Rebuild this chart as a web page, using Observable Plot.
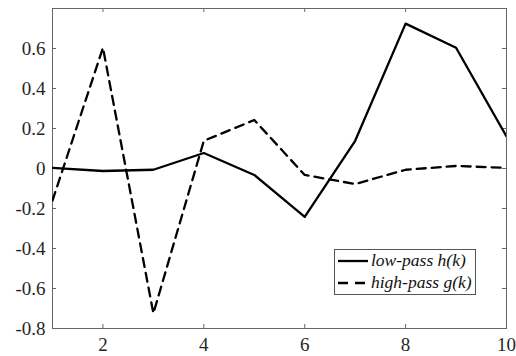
<!DOCTYPE html>
<html><head><meta charset="utf-8">
<script src="https://cdn.jsdelivr.net/npm/d3@7"></script>
<script src="https://cdn.jsdelivr.net/npm/@observablehq/plot@0.6"></script>
<style>
body{margin:0;background:#fff;}
#wrap{position:relative;width:516px;height:356px;}
#legend{position:absolute;left:334px;top:249px;width:142px;height:46px;border:1px solid #555;background:#fff;box-sizing:border-box;font-family:"Liberation Serif","Times New Roman",Times,serif;font-style:italic;font-size:17.5px;color:#111;}
.row{position:absolute;left:3px;display:flex;align-items:center;height:21px;white-space:nowrap;}
.row svg{margin-right:3px;}
</style>
</head><body>
<div id="wrap"><div id="legend"></div></div>
<script>
const k = [1,2,3,4,5,6,7,8,9,10];
const lowPass = [0.0033, -0.0126, -0.0062, 0.0776, -0.0322, -0.2423, 0.1384, 0.7243, 0.6038, 0.1601];
const highPass = [-0.1601, 0.6038, -0.7243, 0.1384, 0.2423, -0.0322, -0.0776, -0.0062, 0.0126, 0.0033];
const seriesNames = ["low-pass h(k)", "high-pass g(k)"];
const xTicks = [2,4,6,8,10];
const yTicks = [-0.8,-0.6,-0.4,-0.2,0,0.2,0.4,0.6];

const low = k.map((x,i)=>({k:x, v:lowPass[i]}));
const high = k.map((x,i)=>({k:x, v:highPass[i]}));

const W = 516, H = 356, mL = 52, mR = 10, mT = 8, mB = 28;
const pw = W - mL - mR, ph = H - mT - mB, tl = 4;
const axisColor = "#666";
const serif = "'Liberation Serif', 'Times New Roman', Times, serif";

const chart = Plot.plot({
  width: W, height: H,
  marginLeft: mL, marginRight: mR, marginTop: mT, marginBottom: mB,
  style: {fontFamily: serif, fontSize: "19px", background: "#fff", color: "#262626"},
  x: {domain: [1,10]},
  y: {domain: [-0.8,0.8]},
  marks: [
    Plot.frame({stroke: axisColor, strokeWidth: 1}),
    Plot.tickX(xTicks.filter(d=>d<10), {x: d=>d, insetTop: ph - tl, stroke: axisColor}),
    Plot.tickX(xTicks.filter(d=>d<10), {x: d=>d, insetBottom: ph - tl, stroke: axisColor}),
    Plot.tickY(yTicks.filter(d=>d>-0.8), {y: d=>d, insetRight: pw - tl, stroke: axisColor}),
    Plot.tickY(yTicks.filter(d=>d>-0.8), {y: d=>d, insetLeft: pw - tl, stroke: axisColor}),
    Plot.axisX({ticks: xTicks, tickSize: 0, tickPadding: 9, label: null, fill: "#262626", fontFamily: serif, fontSize: 19}),
    Plot.axisY({ticks: yTicks, tickSize: 0, tickPadding: 7, label: null, tickFormat: d => d === 0 ? "0" : String(d), fill: "#262626", fontFamily: serif, fontSize: 19}),
    Plot.line(low, {x: "k", y: "v", stroke: "#000", strokeWidth: 2.3, clip: true}),
    Plot.line(high, {x: "k", y: "v", stroke: "#000", strokeWidth: 2.3, strokeDasharray: "9,6", clip: true})
  ]
});
document.getElementById("wrap").prepend(chart);

const lg = document.getElementById("legend");
seriesNames.forEach((name,i)=>{
  const row = document.createElement("div");
  row.className = "row";
  row.style.top = (i === 0 ? 0 : 22) + "px";
  row.innerHTML = `<svg width="30" height="6"><line x1="0" y1="3" x2="30" y2="3" stroke="#000" stroke-width="2.3" ${i===1?'stroke-dasharray="10,7"':''}/></svg><span>${name}</span>`;
  lg.appendChild(row);
});
</script>
</body></html>
